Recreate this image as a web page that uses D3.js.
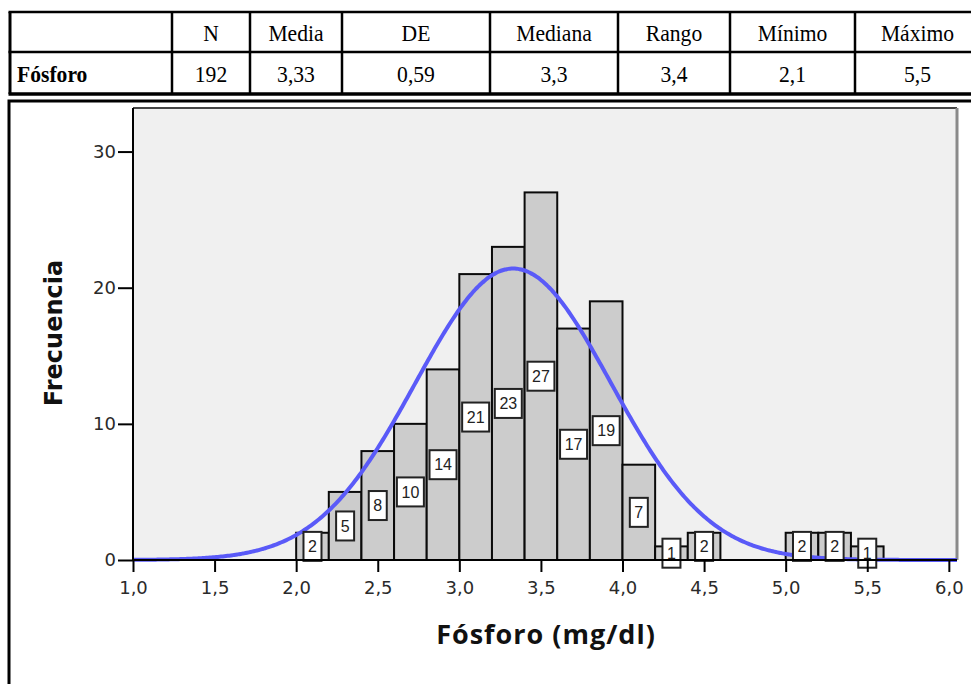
<!DOCTYPE html>
<html><head><meta charset="utf-8">
<script src="https://cdn.jsdelivr.net/npm/d3@7"></script>
<style>body{margin:0;background:#fff}svg{display:block}</style>
</head><body>
<svg id="chart" width="971" height="684"></svg>
<script>
// Summary statistics table
const statHeaders = ["N", "Media", "DE", "Mediana", "Rango", "Mínimo", "Máximo"];
const statRowLabel = "Fósforo";
const statValues = ["192", "3,33", "0,59", "3,3", "3,4", "2,1", "5,5"];

// Histogram bins: lower edge and count (bin width 0.2 mg/dl)
const binStarts = [2.0, 2.2, 2.4, 2.6, 2.8, 3.0, 3.2, 3.4, 3.6, 3.8, 4.0, 4.2, 4.4, 5.0, 5.2, 5.4];
const binCounts = [2, 5, 8, 10, 14, 21, 23, 27, 17, 19, 7, 1, 2, 2, 2, 1];
const binWidth = 0.2;

// Axis ticks
const xTicks = [1.0, 1.5, 2.0, 2.5, 3.0, 3.5, 4.0, 4.5, 5.0, 5.5, 6.0];
const yTicks = [0, 10, 20, 30];

// Fitted normal curve parameters
const curveMean = 3.33;
const curveSD = 0.6;
const curveN = 161;

const xTitle = "Fósforo (mg/dl)";
const yTitle = "Frecuencia";

const svg = d3.select("#chart");
const fmt = d => d.toFixed(1).replace(".", ",");

// ---------- table ----------
const colEdges = [10, 172, 250, 342, 490, 618, 730, 855, 980];
const rowEdges = [12, 52, 94];
const tbl = svg.append("g");
const serif = "'Liberation Serif', 'Times New Roman', serif";

// horizontal rules
rowEdges.forEach((y, i) => {
  tbl.append("line").attr("x1", colEdges[0] - 1.5).attr("x2", 975)
    .attr("y1", y).attr("y2", y)
    .attr("stroke", "#000").attr("stroke-width", i === 2 ? 3.5 : 2.5);
});
// vertical rules
colEdges.slice(0, -1).forEach((x, i) => {
  tbl.append("line").attr("x1", x).attr("x2", x)
    .attr("y1", rowEdges[0]).attr("y2", rowEdges[2])
    .attr("stroke", "#000").attr("stroke-width", i === 0 ? 3 : 2.5);
});
const colCenter = i => (colEdges[i + 1] + colEdges[i + 2]) / 2;
// cell text is set slightly narrow (condensed serif)
const cellText = (g, cx, cy, s, bold, anchor) => g.append("text")
  .attr("transform", `translate(${cx},${cy}) scale(0.9,1)`)
  .attr("text-anchor", anchor || "middle").attr("font-family", serif)
  .attr("font-size", 24).attr("font-weight", bold ? "bold" : "normal").attr("fill", "#000")
  .text(s);
statHeaders.forEach((d, i) => cellText(tbl, colCenter(i), 41, d));
statValues.forEach((d, i) => cellText(tbl, colCenter(i), 82, d));
cellText(tbl, 17, 82, statRowLabel, true, "start");

// ---------- chart frame ----------
svg.append("path").attr("d", "M9,690 V101 H980")
  .attr("fill", "none").attr("stroke", "#000").attr("stroke-width", 3);

// ---------- plot ----------
const plot = { left: 133, right: 957, top: 108, bottom: 560 };
const x = d3.scaleLinear().domain([1.0, 6.05]).range([plot.left, plot.right]);
const y = d3.scaleLinear().domain([0, 33.2]).range([plot.bottom, plot.top]);

svg.append("rect").attr("x", plot.left).attr("y", plot.top)
  .attr("width", plot.right - plot.left).attr("height", plot.bottom - plot.top)
  .attr("fill", "#f0f0f0");
// plot border: top and shaded right edge
svg.append("line").attr("x1", plot.left).attr("x2", plot.right).attr("y1", plot.top).attr("y2", plot.top)
  .attr("stroke", "#444").attr("stroke-width", 2);
svg.append("line").attr("x1", plot.right).attr("x2", plot.right).attr("y1", plot.top).attr("y2", plot.bottom)
  .attr("stroke", "#8a8a8a").attr("stroke-width", 3);

const bins = binStarts.map((s, i) => ({ x0: s, x1: s + binWidth, n: binCounts[i] }));

// bars
svg.append("g").selectAll("rect").data(bins).join("rect")
  .attr("x", d => x(d.x0)).attr("y", d => y(d.n))
  .attr("width", d => x(d.x1) - x(d.x0)).attr("height", d => y(0) - y(d.n))
  .attr("fill", "#cccccc").attr("stroke", "#0a0a0a").attr("stroke-width", 2);

// normal curve
const pdf = v => Math.exp(-0.5 * ((v - curveMean) / curveSD) ** 2) / (curveSD * Math.sqrt(2 * Math.PI));
const curvePts = d3.range(1.0, 6.05 + 1e-9, 0.01).map(v => [v, curveN * binWidth * pdf(v)]);
svg.append("path").datum(curvePts)
  .attr("d", d3.line().x(d => x(d[0])).y(d => y(d[1])).curve(d3.curveBasis))
  .attr("fill", "none").attr("stroke", "#5a5af8").attr("stroke-width", 4);

// count labels at mid-height of each bar
const labels = svg.append("g").selectAll("g").data(bins).join("g")
  .attr("transform", d => `translate(${x((d.x0 + d.x1) / 2)},${y(d.n / 2)})`);
labels.append("rect")
  .attr("x", d => -(String(d.n).length > 1 ? 13.5 : 9)).attr("y", -14.5)
  .attr("width", d => String(d.n).length > 1 ? 27 : 18).attr("height", 29)
  .attr("fill", "#fff").attr("stroke", "#222").attr("stroke-width", 2);
labels.append("text").attr("text-anchor", "middle").attr("dy", "0.36em")
  .attr("font-family", "'Liberation Sans', Arial, sans-serif").attr("font-size", 16)
  .attr("fill", "#222").text(d => d.n);

// axes
const tickFont = "'DejaVu Sans', Verdana, sans-serif";
const xAxis = svg.append("g").attr("transform", `translate(0,${plot.bottom})`)
  .call(d3.axisBottom(x).tickValues(xTicks).tickFormat(fmt).tickSize(12).tickPadding(9).tickSizeOuter(0));
const yAxis = svg.append("g").attr("transform", `translate(${plot.left},0)`)
  .call(d3.axisLeft(y).tickValues(yTicks).tickSize(15).tickPadding(2).tickSizeOuter(0));
[xAxis, yAxis].forEach(g => {
  g.select(".domain").attr("stroke", "#000").attr("stroke-width", 2);
  g.selectAll(".tick line").attr("stroke", "#000").attr("stroke-width", 2);
  g.selectAll(".tick text").attr("font-family", tickFont).attr("font-size", 18).attr("fill", "#2a2a2a");
});
yAxis.select(".domain").attr("d", `M0,${plot.bottom}V${plot.top}`);
xAxis.select(".domain").attr("d", `M${plot.left},0H${plot.right}`);

// axis titles
svg.append("text").attr("x", 546).attr("y", 644)
  .attr("text-anchor", "middle").attr("font-family", "'Open Sans', sans-serif")
  .attr("font-weight", 700).attr("font-size", 27).attr("letter-spacing", 1)
  .attr("fill", "#111").text(xTitle);
svg.append("text").attr("transform", "translate(62,333) rotate(-90)")
  .attr("text-anchor", "middle").attr("font-family", "'DejaVu Sans', Verdana, sans-serif")
  .attr("font-weight", "bold").attr("font-size", 24).attr("fill", "#111").text(yTitle);
</script>
</body></html>
